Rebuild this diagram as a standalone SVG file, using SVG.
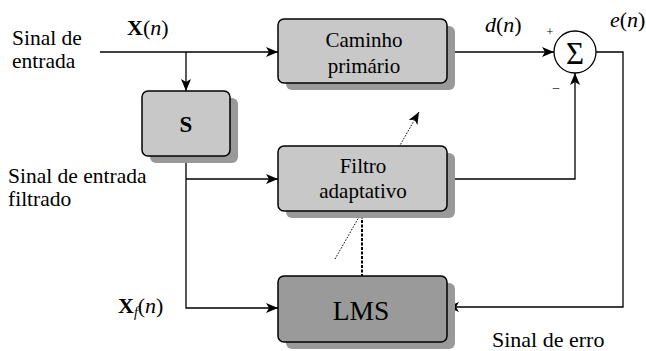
<svg xmlns="http://www.w3.org/2000/svg" width="646" height="351" viewBox="0 0 646 351">
<style>
.box{fill:#c8c8c8;stroke:#000;stroke-width:1.5}
.dark{fill:#9a9a9a;stroke:#000;stroke-width:1.5}
.sh{fill:#999}
.ln{fill:none;stroke:#000;stroke-width:1.3}
</style>
<defs>
<marker id="ar" viewBox="0 0 12 10" refX="12" refY="5" markerWidth="12" markerHeight="10" markerUnits="userSpaceOnUse" orient="auto">
<path d="M0,0 L12,5 L0,10 L3,5 Z" fill="#000"/>
</marker>
</defs>
<g id="connectors">
<path class="ln" d="M100,52 H278" marker-end="url(#ar)"/>
<path class="ln" d="M186,52 V91" marker-end="url(#ar)"/>
<path class="ln" d="M186,156 V308 H278" marker-end="url(#ar)"/>
<path class="ln" d="M186,179 H278" marker-end="url(#ar)"/>
<path class="ln" d="M447,52 H554" marker-end="url(#ar)"/>
<path class="ln" d="M447,179 H575 V73" marker-end="url(#ar)"/>
<path class="ln" d="M596,52 H623 V307 H447" marker-end="url(#ar)"/>
<path d="M362,211 V276" fill="none" stroke="#000" stroke-width="2" stroke-dasharray="3,1.5"/>
<path d="M335,259 L419,112" fill="none" stroke="#000" stroke-width="1" stroke-dasharray="1.5,1.5" marker-end="url(#ar)"/>
</g>
<g font-family="Liberation Serif, Times New Roman, serif" fill="#000">
<g id="caminho">
<rect class="sh" x="286" y="26" width="169" height="64" rx="6"/>
<rect class="box" x="278" y="19" width="169" height="64" rx="6"/>
<text x="364" y="47" text-anchor="middle" font-family="Liberation Serif, serif" font-size="21">Caminho</text>
<text x="364" y="73" text-anchor="middle" font-family="Liberation Serif, serif" font-size="21">primário</text>
</g>
<g id="s">
<rect class="sh" x="150" y="98" width="88" height="65" rx="6"/>
<rect class="box" x="142" y="91" width="88" height="65" rx="6"/>
<text x="186" y="132" text-anchor="middle" font-family="Liberation Serif, serif" font-size="23" font-weight="bold">S</text>
</g>
<g id="filtro">
<rect class="sh" x="286" y="153" width="169" height="65" rx="6"/>
<rect class="box" x="278" y="146" width="169" height="65" rx="6"/>
<text x="363" y="173" text-anchor="middle" font-family="Liberation Serif, serif" font-size="21">Filtro</text>
<text x="363" y="198" text-anchor="middle" font-family="Liberation Serif, serif" font-size="21">adaptativo</text>
</g>
<g id="lms">
<rect class="sh" x="286" y="283" width="169" height="66" rx="6"/>
<rect class="dark" x="278" y="276" width="169" height="66" rx="6"/>
<text x="361" y="320" text-anchor="middle" font-family="Liberation Serif, serif" font-size="27.5">LMS</text>
</g>
<g id="soma">
<circle cx="575" cy="52" r="21" fill="#fff" stroke="#000" stroke-width="1.3"/>
<text x="575" y="64" text-anchor="middle" font-family="Liberation Serif, serif" font-size="31">Σ</text>
<text x="550" y="36" text-anchor="middle" font-family="Liberation Serif, serif" font-size="12">+</text>
<text x="556" y="91" text-anchor="middle" font-family="Liberation Serif, serif" font-size="13">–</text>
</g>
<g id="labels">
<text x="12" y="45" font-family="Liberation Serif, serif" font-size="21.5">Sinal de</text>
<text x="12" y="68" font-family="Liberation Serif, serif" font-size="21.5">entrada</text>
<text x="127" y="35" font-family="Liberation Serif, serif" font-size="22"><tspan font-weight="bold">X</tspan>(<tspan font-style="italic">n</tspan>)</text>
<text x="485" y="32" font-family="Liberation Serif, serif" font-size="22"><tspan font-style="italic">d</tspan>(<tspan font-style="italic">n</tspan>)</text>
<text x="610" y="27" font-family="Liberation Serif, serif" font-size="22"><tspan font-style="italic">e</tspan>(<tspan font-style="italic">n</tspan>)</text>
<text x="8" y="183" font-family="Liberation Serif, serif" font-size="21.5">Sinal de entrada</text>
<text x="8" y="206" font-family="Liberation Serif, serif" font-size="21.5">filtrado</text>
<text x="118" y="313" font-family="Liberation Serif, serif" font-size="22"><tspan font-weight="bold">X</tspan><tspan font-style="italic" font-size="14" dy="4">f</tspan><tspan dy="-4">(</tspan><tspan font-style="italic">n</tspan>)</text>
<text x="492" y="347" font-family="Liberation Serif, serif" font-size="22">Sinal de erro</text>
</g>
</g>
</svg>
